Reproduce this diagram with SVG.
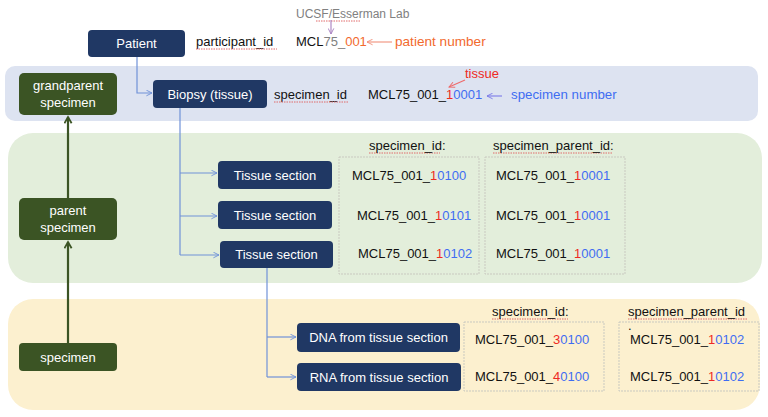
<svg xmlns="http://www.w3.org/2000/svg" width="768" height="417" viewBox="0 0 768 417">
<defs>
<style>
text{font-family:"Liberation Sans",Arial,sans-serif;font-size:13px;fill:#111}
.nb{fill:#203864}
.gb{fill:#3b5424}
.wt{fill:#fff;text-anchor:middle}
.bl{fill:#3f6df2}
.rd{fill:#ee2a24}
.or{fill:#f26a2e}
.gy{fill:#808080}
.blc{stroke:#7092d8;stroke-width:1.2;fill:none}
.grc{stroke:#3b5424;stroke-width:2.2;fill:none}
.tbl{fill:none;stroke:#c9c9c0;stroke-width:1;stroke-dasharray:2 1}
.sq{stroke:#e06a6a;stroke-width:1;stroke-dasharray:1.5 1;fill:none}
</style>
<marker id="ab" viewBox="0 0 10 10" refX="9" refY="5" markerWidth="7" markerHeight="7" orient="auto" markerUnits="userSpaceOnUse"><path d="M1,1 L9,5 L1,9" fill="none" stroke="#7092d8" stroke-width="1.3"/></marker>
<marker id="ag" viewBox="0 0 10 10" refX="8" refY="5" markerWidth="9" markerHeight="9" orient="auto" markerUnits="userSpaceOnUse"><path d="M1,1 L8,5 L1,9" fill="none" stroke="#3b5424" stroke-width="2"/></marker>
<marker id="ap" viewBox="0 0 10 10" refX="9" refY="5" markerWidth="7" markerHeight="7" orient="auto" markerUnits="userSpaceOnUse"><path d="M1,1 L9,5 L1,9" fill="none" stroke="#a77fc0" stroke-width="1.3"/></marker>
<marker id="ao" viewBox="0 0 10 10" refX="9" refY="5" markerWidth="7" markerHeight="7" orient="auto" markerUnits="userSpaceOnUse"><path d="M1,1 L9,5 L1,9" fill="none" stroke="#f0907a" stroke-width="1.3"/></marker>
<marker id="ar" viewBox="0 0 10 10" refX="9" refY="5" markerWidth="7" markerHeight="7" orient="auto" markerUnits="userSpaceOnUse"><path d="M1,1 L9,5 L1,9" fill="none" stroke="#ee6a6a" stroke-width="1.3"/></marker>
<marker id="abl" viewBox="0 0 10 10" refX="9" refY="5" markerWidth="7" markerHeight="7" orient="auto" markerUnits="userSpaceOnUse"><path d="M1,1 L9,5 L1,9" fill="none" stroke="#7a7ae8" stroke-width="1.3"/></marker>
</defs>

<g id="bands">
<rect x="5" y="66" width="753" height="55" rx="10" fill="#dde3f1"/>
<rect x="8" y="133" width="754" height="150" rx="25" fill="#e3eedb"/>
<rect x="8" y="299" width="752" height="111" rx="25" fill="#fcf0cf"/>
</g>

<g id="annotations">
<text x="296" y="18" class="gy" style="font-size:12px">UCSF/Esserman Lab</text>
<text x="196" y="46">participant_id</text>
<text x="296" y="46">MCL<tspan class="gy">75_</tspan><tspan class="or">001</tspan></text>
<text x="395" y="46" class="or" style="font-size:13.6px">patient number</text>
<text x="274" y="99">specimen_id</text>
<text x="368" y="99">MCL75_001_<tspan class="rd">1</tspan><tspan class="bl">0001</tspan></text>
<text x="465" y="78" class="rd">tissue</text>
<text x="511" y="99" class="bl" style="font-size:13.3px">specimen number</text>
<path class="sq" d="M316,21 H360 M196,49 H277 M274,102 H348 M369,153 H440 M493,153 H612 M492,319 H568 M628,319 H748"/>
</g>

<g id="tables">
<rect class="tbl" x="339" y="157" width="140" height="117"/>
<rect class="tbl" x="485" y="157" width="140" height="117"/>
<text x="369" y="150">specimen_id:</text>
<text x="493" y="150">specimen_parent_id:</text>
<text x="352" y="180">MCL75_001_<tspan class="rd">1</tspan><tspan class="bl">0100</tspan></text>
<text x="357" y="220">MCL75_001_<tspan class="rd">1</tspan><tspan class="bl">0101</tspan></text>
<text x="358" y="258">MCL75_001_<tspan class="rd">1</tspan><tspan class="bl">0102</tspan></text>
<text x="496" y="180">MCL75_001_<tspan class="rd">1</tspan><tspan class="bl">0001</tspan></text>
<text x="496" y="220">MCL75_001_<tspan class="rd">1</tspan><tspan class="bl">0001</tspan></text>
<text x="496" y="258">MCL75_001_<tspan class="rd">1</tspan><tspan class="bl">0001</tspan></text>
<rect class="tbl" x="464" y="322" width="140" height="69"/>
<rect class="tbl" x="619" y="322" width="140" height="69"/>
<text x="492" y="316">specimen_id:</text>
<text x="628" y="316">specimen_parent_id</text>
<text x="628" y="330">.</text>
<text x="475" y="344">MCL75_001_<tspan class="rd">3</tspan><tspan class="bl">0100</tspan></text>
<text x="475" y="381">MCL75_001_<tspan class="rd">4</tspan><tspan class="bl">0100</tspan></text>
<text x="630" y="344">MCL75_001_<tspan class="rd">1</tspan><tspan class="bl">0102</tspan></text>
<text x="630" y="381">MCL75_001_<tspan class="rd">1</tspan><tspan class="bl">0102</tspan></text>
</g>

<g id="connectors">
<path class="blc" d="M137,57 V93 H152" marker-end="url(#ab)"/>
<path class="blc" d="M180,108 V255"/>
<path class="blc" d="M180,173 H217" marker-end="url(#ab)"/>
<path class="blc" d="M180,216 H217" marker-end="url(#ab)"/>
<path class="blc" d="M180,255 H219" marker-end="url(#ab)"/>
<path class="blc" d="M267,268 V377"/>
<path class="blc" d="M267,337 H296" marker-end="url(#ab)"/>
<path class="blc" d="M267,377 H296" marker-end="url(#ab)"/>
<path class="grc" d="M68,198 V117" marker-end="url(#ag)"/>
<path class="grc" d="M68,343 V242" marker-end="url(#ag)"/>
<path d="M331,20 V34" fill="none" stroke="#a77fc0" stroke-width="1.1" marker-end="url(#ap)"/>
<path d="M392,42 H367" fill="none" stroke="#f0907a" stroke-width="1.1" marker-end="url(#ao)"/>
<path d="M502,96 H487" fill="none" stroke="#7a7ae8" stroke-width="1.1" marker-end="url(#abl)"/>
<path d="M465,80 L449,87" fill="none" stroke="#ee6a6a" stroke-width="1.1" marker-end="url(#ar)"/>
</g>

<g id="patient"><rect class="nb" x="88" y="30" width="97" height="27" rx="4"/><text class="wt" x="136.5" y="48">Patient</text></g>
<g id="biopsy"><rect class="nb" x="153" y="80" width="114" height="28" rx="4"/><text class="wt" x="210" y="99">Biopsy (tissue)</text></g>
<g id="grandparent"><rect class="gb" x="19" y="73" width="98" height="42" rx="5"/><text class="wt" x="68" y="90">grandparent</text><text class="wt" x="68" y="107">specimen</text></g>
<g id="parent"><rect class="gb" x="19" y="198" width="98" height="42" rx="5"/><text class="wt" x="68" y="215">parent</text><text class="wt" x="68" y="232">specimen</text></g>
<g id="specimen"><rect class="gb" x="19" y="343" width="98" height="28" rx="4"/><text class="wt" x="68" y="362">specimen</text></g>
<g id="tissue1"><rect class="nb" x="218" y="161" width="114" height="28" rx="4"/><text class="wt" x="275" y="180">Tissue section</text></g>
<g id="tissue2"><rect class="nb" x="218" y="201" width="114" height="28" rx="4"/><text class="wt" x="275" y="220">Tissue section</text></g>
<g id="tissue3"><rect class="nb" x="220" y="241" width="113" height="27" rx="4"/><text class="wt" x="276.5" y="259">Tissue section</text></g>
<g id="dna"><rect class="nb" x="297" y="323" width="163" height="29" rx="4"/><text class="wt" x="378.5" y="342">DNA from tissue section</text></g>
<g id="rna"><rect class="nb" x="297" y="363" width="164" height="28" rx="4"/><text class="wt" x="379" y="382">RNA from tissue section</text></g>
</svg>
